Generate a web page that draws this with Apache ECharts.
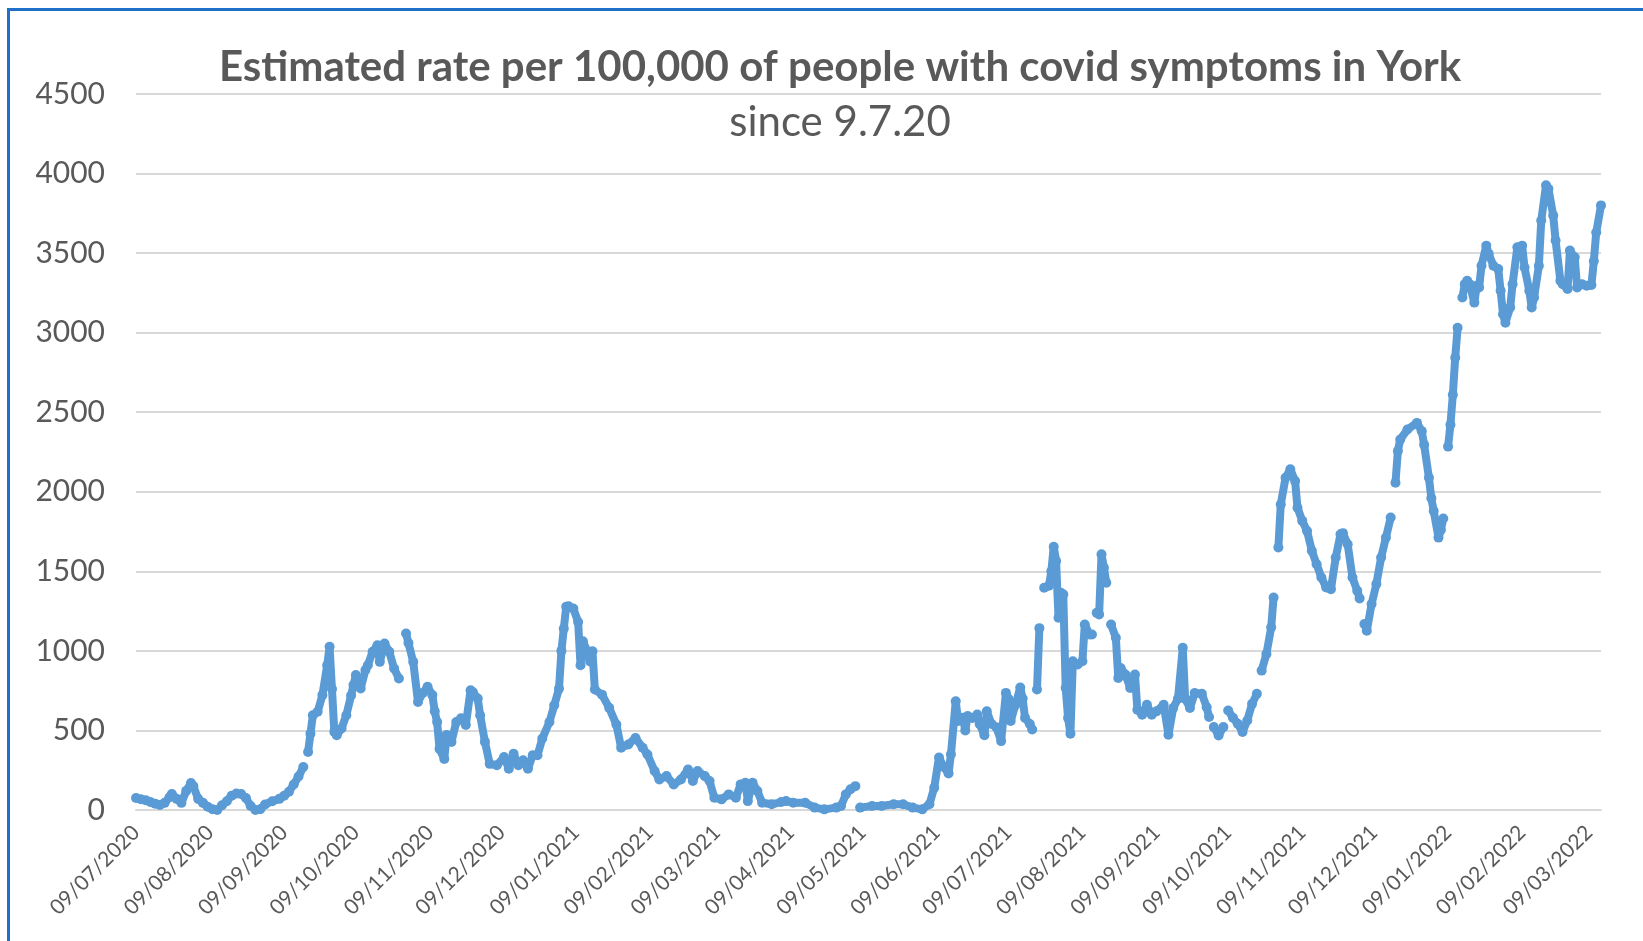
<!DOCTYPE html>
<html>
<head>
<meta charset="utf-8">
<script src="https://cdn.jsdelivr.net/npm/echarts/dist/echarts.min.js"></script>
<style>
html,body{margin:0;padding:0;background:#fff;overflow:hidden;width:1643px;height:941px;}
#chart{position:absolute;left:0;top:0;width:1643px;height:941px;}
#frame{position:absolute;left:7px;top:8px;width:1660px;height:960px;border-left:3px solid #1f70c8;border-top:3px solid #1f70c8;pointer-events:none;}
</style>
</head>
<body>
<div id="chart"></div>
<div id="frame"></div>
<script>
// Day offsets since 09/07/2020 (null rate = missing day, line gap)
const sampleDay = [
  0,2,4,6,8,10,12,14,15,17,19,21,23,24,26,28,30,32,34,36,38,40,42,44,46,48,50,52,54,57,60,62,64,66,68,70,
  71,
  72,73,74,76,78,80,81,82,83,84,86,88,90,91,92,94,96,97,99,101,102,104,106,108,110,
  111,
  113,114,116,118,120,122,124,125,126,127,129,130,132,134,136,138,140,141,143,144,146,148,151,154,156,158,160,162,164,166,168,170,173,175,177,178,179,180,181,183,185,186,187,189,190,191,192,195,198,201,203,206,209,212,214,217,219,222,225,228,231,233,235,238,240,242,245,248,251,253,255,256,258,260,262,266,270,272,275,280,284,288,293,295,297,299,301,
  302,
  303,308,312,317,321,325,329,332,334,336,338,340,341,343,344,346,347,348,350,352,353,355,356,358,360,362,364,365,366,368,370,371,372,374,375,
  376,
  377,378,
  379,
  380,382,383,384,385,386,387,388,389,390,391,392,394,396,397,399,400,
  401,
  402,403,404,405,406,
  407,
  408,410,411,412,414,416,418,419,421,423,425,427,430,432,434,436,438,439,441,443,446,448,449,
  450,
  451,453,455,
  456,
  457,459,461,463,465,467,469,
  470,
  471,473,475,476,
  477,
  478,479,481,483,485,486,488,490,492,494,496,498,500,502,504,505,507,509,511,512,
  513,
  514,515,517,519,521,523,525,
  526,
  527,528,529,532,536,538,539,541,542,543,545,546,547,
  548,
  549,550,551,552,553,
  554,
  555,556,557,558,560,561,562,563,565,566,568,570,571,572,573,575,576,578,580,581,583,584,585,587,588,590,591,593,594,596,597,599,600,602,603,605,607,609,610,611,613
];
const rate = [
  75,68,62,50,40,32,45,80,100,70,45,120,170,150,70,45,20,5,0,30,55,90,103,100,75,25,0,5,35,55,70,90,115,160,210,270,
  null,
  365,480,596,617,722,910,1026,760,491,470,512,596,720,785,848,764,880,910,994,1036,931,1046,994,889,826,
  null,
  1109,1050,931,679,736,774,723,620,553,384,321,472,428,553,576,535,752,740,700,595,428,290,281,333,260,354,281,312,260,344,344,449,553,658,763,1000,1140,1277,1280,1266,1182,910,1060,994,934,997,757,725,642,537,391,412,453,391,349,245,192,213,161,192,255,182,245,213,182,77,67,98,77,161,171,56,171,119,46,36,50,56,46,46,15,4,15,25,98,130,150,
  null,
  15,25,25,36,36,15,4,36,140,330,270,230,350,683,560,579,500,590,578,600,540,470,620,540,520,433,736,700,560,662,770,700,579,540,506,
  null,
  757,1143,
  null,
  1397,1410,1500,1655,1565,1208,1365,1355,767,578,480,935,914,935,1166,1103,1103,
  null,
  1239,1229,1607,1523,1428,
  null,
  1166,1082,830,893,851,767,851,630,599,662,599,620,662,473,641,700,1019,700,641,735,730,646,584,
  null,
  521,469,521,
  null,
  625,580,542,490,563,667,730,
  null,
  876,981,1148,1336,
  null,
  1650,1921,2088,2141,2068,1900,1817,1754,1629,1545,1461,1399,1388,1587,1733,1740,1670,1461,1378,1330,
  null,
  1169,1127,1294,1420,1587,1712,1838,
  null,
  2057,2256,2329,2391,2433,2381,2295,2088,1960,1879,1712,1760,1832,
  null,
  2284,2421,2610,2842,3031,
  null,
  3221,3305,3326,3305,3189,3295,3284,3421,3547,3495,3421,3400,3263,3116,3063,3158,3305,3537,3547,3410,3263,3158,3221,3421,3705,3926,3905,3737,3579,3326,3305,3274,3516,3474,3284,3305,3295,3300,3450,3630,3800
];
const yTicks = [0,500,1000,1500,2000,2500,3000,3500,4000,4500];
const titleText = 'Estimated rate per 100,000 of people with covid symptoms in York';
const subtitleText = 'since 9.7.20';

// daily categories 09/07/2020 .. 14/03/2022
const categories = [];
for (let t = Date.UTC(2020,6,9); t <= Date.UTC(2022,2,14); t += 86400000) {
  categories.push(new Date(t).toISOString().slice(0,10));
}
const seriesData = sampleDay.map((d,i) => [categories[d], rate[i] === null ? '-' : rate[i]]);

const chart = echarts.init(document.getElementById('chart'));
chart.setOption({
  backgroundColor: '#ffffff',
  animation: false,
  title: [
    {text: titleText, left: 840, top: 46, textAlign: 'center', padding: 0,
     textStyle: {fontFamily: 'Lato', fontSize: 42, fontWeight: 'bold', color: '#595959'}},
    {text: subtitleText, left: 840, top: 101, textAlign: 'center', padding: 0,
     textStyle: {fontFamily: 'Lato', fontSize: 42, fontWeight: 'normal', color: '#595959'}}
  ],
  grid: {left: 136, right: 42, top: 94, bottom: 131},
  xAxis: {
    type: 'category', data: categories, boundaryGap: false,
    axisLine: {show: true, lineStyle: {color: '#d9d9d9', width: 2}},
    axisTick: {show: false},
    splitLine: {show: false},
    axisLabel: {
      interval: (i, v) => v.slice(8) === '09',
      rotate: 45, margin: 19,
      formatter: v => v.slice(8) + '/' + v.slice(5,7) + '/' + v.slice(0,4),
      color: '#595959', fontFamily: 'Lato', fontSize: 21
    }
  },
  yAxis: {
    type: 'value', min: yTicks[0], max: yTicks[yTicks.length-1], interval: 500,
    axisLine: {show: false}, axisTick: {show: false},
    splitLine: {lineStyle: {color: '#d9d9d9', width: 2}},
    axisLabel: {color: '#595959', fontFamily: 'Lato', fontSize: 30, margin: 31, formatter: v => String(v)}
  },
  series: [{
    type: 'line', data: seriesData, connectNulls: false,
    symbol: 'circle', symbolSize: 10, showSymbol: true, showAllSymbol: true,
    lineStyle: {width: 8, color: '#5b9bd5'},
    itemStyle: {color: '#5b9bd5'},
    z: 3
  }]
});
</script>
</body>
</html>
